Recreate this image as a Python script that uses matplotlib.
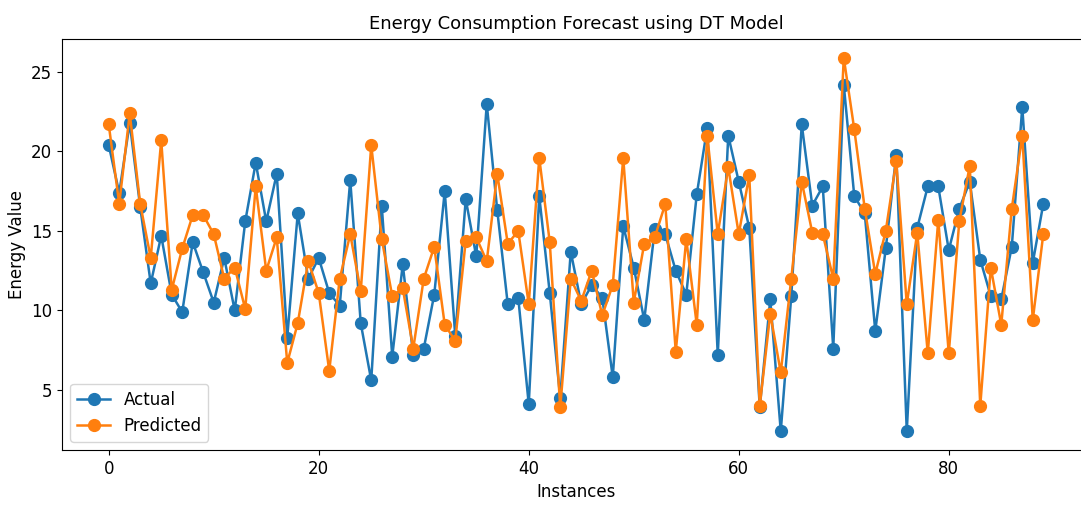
import matplotlib
matplotlib.use("Agg")
import matplotlib.pyplot as plt
import numpy as np

actual = [20.4, 17.4, 21.8, 16.5, 11.7, 14.7, 11.0, 9.9, 14.3, 12.4,
          10.5, 13.3, 10.0, 15.6, 19.3, 15.6, 18.6, 8.3, 16.1, 12.0,
          13.3, 11.1, 10.3, 18.2, 9.2, 5.6, 16.6, 7.1, 12.9, 7.2,
          7.6, 11.0, 17.5, 8.4, 17.0, 13.4, 23.0, 16.3, 10.4, 10.8,
          4.1, 17.2, 11.1, 4.5, 13.7, 10.4, 11.6, 10.8, 5.8, 15.3,
          12.7, 9.4, 15.1, 14.8, 12.5, 11.0, 17.3, 21.5, 7.2, 21.0,
          18.1, 15.2, 3.9, 10.7, 2.4, 10.9, 21.7, 16.6, 17.8, 7.6,
          24.2, 17.2, 16.1, 8.7, 13.9, 19.8, 2.4, 15.2, 17.8, 17.8,
          13.8, 16.4, 18.1, 13.2, 10.9, 10.7, 14.0, 22.8, 13.0, 16.7]

predicted = [21.7, 16.7, 22.4, 16.7, 13.3, 20.7, 11.3, 13.9, 16.0, 16.0,
             14.8, 12.0, 12.7, 10.1, 17.8, 12.5, 14.6, 6.7, 9.2, 13.1,
             11.1, 6.2, 12.0, 14.8, 11.2, 20.4, 14.5, 10.9, 11.4, 7.6,
             12.0, 14.0, 9.1, 8.1, 14.4, 14.6, 13.1, 18.6, 14.2, 15.0,
             10.4, 19.6, 14.3, 3.9, 12.0, 10.6, 12.5, 9.7, 11.6, 19.6,
             10.5, 14.2, 14.6, 16.7, 7.4, 14.5, 9.1, 21.0, 14.8, 19.0,
             14.8, 18.5, 4.0, 9.8, 6.1, 12.0, 18.1, 14.9, 14.8, 12.0,
             25.9, 21.4, 16.4, 12.3, 15.0, 19.4, 10.4, 14.9, 7.3, 15.7,
             7.3, 15.6, 19.1, 4.0, 12.7, 9.1, 16.4, 21.0, 9.4, 14.8]

instances = np.arange(len(actual))

fig = plt.figure(figsize=(10.81, 5.12), dpi=100)
ax = fig.add_axes([62/1081, (512-450)/512, (1090-62)/1081, (450-39)/512])

ax.plot(instances, actual, marker='o', color='#1f77b4', markersize=8.5,
        linewidth=1.8, label='Actual')
ax.plot(instances, predicted, marker='o', color='#ff7f0e', markersize=8.5,
        linewidth=1.8, label='Predicted')

ax.set_title('Energy Consumption Forecast using DT Model', fontsize=13, pad=7)
ax.set_xlabel('Instances', fontsize=12)
ax.set_ylabel('Energy Value', fontsize=12)
ax.tick_params(labelsize=12)
ax.set_yticks([5, 10, 15, 20, 25])
ax.set_xticks([0, 20, 40, 60, 80])
ax.legend(loc='lower left', fontsize=12)

fig.savefig('out.png', dpi=100)
